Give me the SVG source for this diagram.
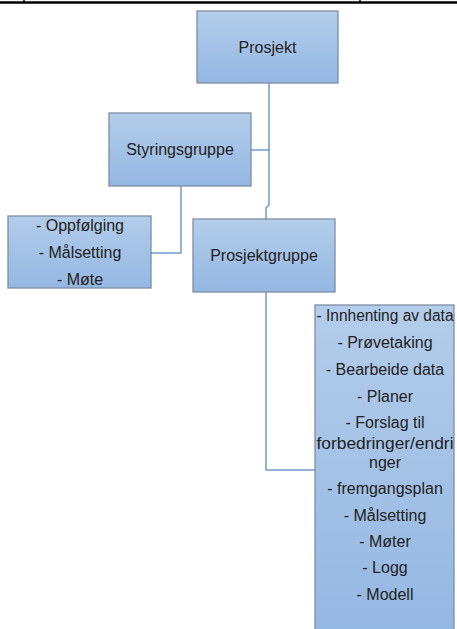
<svg xmlns="http://www.w3.org/2000/svg" width="457" height="629" viewBox="0 0 457 629">
  <defs>
    <linearGradient id="boxFill" x1="0" y1="0" x2="0" y2="1">
      <stop offset="0" stop-color="#b3cdea"/>
      <stop offset="1" stop-color="#94b7e2"/>
    </linearGradient>
    <style>
      .box { fill: url(#boxFill); stroke: #7d8ea5; stroke-width: 1.3; }
      .lbl { font-family: "Liberation Sans", Arial, sans-serif; font-size: 16px; fill: #222; text-anchor: middle; }
      .conn { fill: none; stroke: #6e9bd1; stroke-width: 1.5; }
      .rule { stroke: #000; stroke-width: 2.5; fill: none; }
    </style>
  </defs>
  <rect width="457" height="629" fill="#fff"/>

  <!-- table border remnant at the top -->
  <g id="top-rule">
    <line class="rule" x1="0" y1="2.5" x2="457" y2="2.5"/>
    <line x1="24" y1="0" x2="24" y2="3" stroke="#000" stroke-width="1.5"/>
    <line x1="360" y1="0" x2="360" y2="3" stroke="#000" stroke-width="1.5"/>
  </g>

  <!-- connectors -->
  <g id="connectors">
    <polyline class="conn" points="269,83 269,205 266,208 266,219"/>
    <polyline class="conn" points="251,150 269,150"/>
    <polyline class="conn" points="181,186 181,253 151,253"/>
    <polyline class="conn" points="266,292 266,470 315,470"/>
  </g>

  <g id="prosjekt">
    <rect class="box" x="197" y="11" width="141" height="72"/>
    <text class="lbl" x="267.5" y="53">Prosjekt</text>
  </g>

  <g id="styringsgruppe">
    <rect class="box" x="109" y="113" width="142" height="73"/>
    <text class="lbl" x="180" y="155">Styringsgruppe</text>
  </g>

  <g id="styringsgruppe-oppgaver">
    <rect class="box" x="8" y="216" width="143" height="72"/>
    <text class="lbl" x="80" y="231">- Oppfølging</text>
    <text class="lbl" x="80" y="258">- Målsetting</text>
    <text class="lbl" x="80" y="285">- Møte</text>
  </g>

  <g id="prosjektgruppe">
    <rect class="box" x="193" y="219" width="142" height="73"/>
    <text class="lbl" x="264" y="261">Prosjektgruppe</text>
  </g>

  <g id="prosjektgruppe-oppgaver">
    <rect class="box" x="315" y="305" width="139" height="330"/>
    <text class="lbl" x="385" y="321" textLength="137" lengthAdjust="spacingAndGlyphs">- Innhenting av data</text>
    <text class="lbl" x="385" y="348">- Prøvetaking</text>
    <text class="lbl" x="385" y="375">- Bearbeide data</text>
    <text class="lbl" x="385" y="402">- Planer</text>
    <text class="lbl" x="385" y="428">- Forslag til</text>
    <text class="lbl" x="385" y="449" textLength="137" lengthAdjust="spacingAndGlyphs">forbedringer/endri</text>
    <text class="lbl" x="385" y="468">nger</text>
    <text class="lbl" x="385" y="494">- fremgangsplan</text>
    <text class="lbl" x="385" y="521">- Målsetting</text>
    <text class="lbl" x="385" y="547">- Møter</text>
    <text class="lbl" x="385" y="573">- Logg</text>
    <text class="lbl" x="385" y="600">- Modell</text>
  </g>
</svg>
